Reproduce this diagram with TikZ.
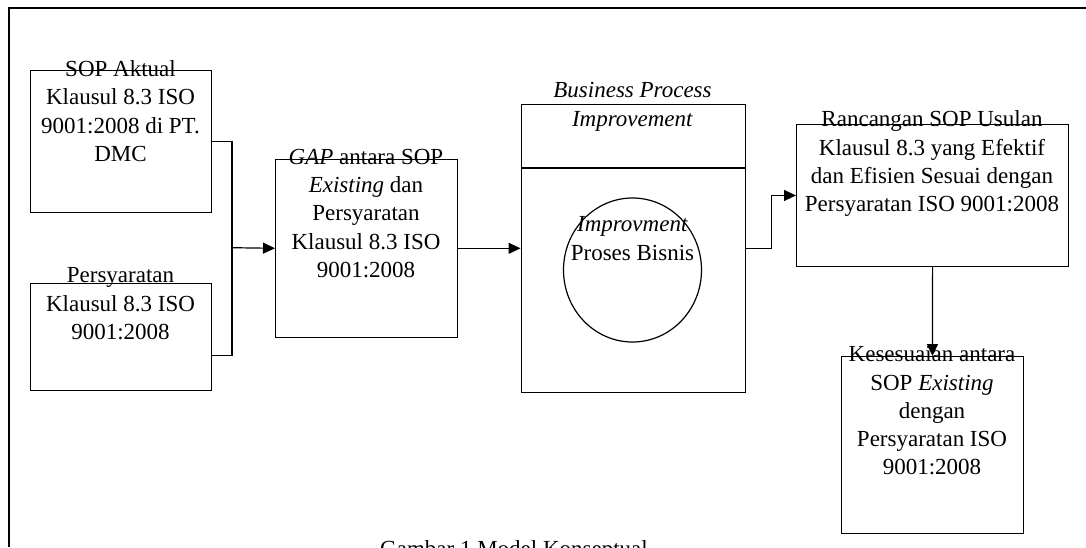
\documentclass[tikz,border=0pt]{standalone}
\usepackage{fontspec}
\setmainfont{Liberation Serif}
\usetikzlibrary{arrows.meta,shapes.geometric}
\begin{document}
\begin{tikzpicture}[x=1pt,y=-1pt,
  box/.style={draw, line width=1.2pt, inner sep=0pt, anchor=north west},
  txt/.style={align=center, inner sep=0pt, anchor=base, font=\fontsize{23}{28.3}\selectfont},
  conn/.style={line width=1.2pt},
  arr/.style={line width=1.2pt, -{Triangle[length=12pt,width=11pt]}}]
\useasboundingbox (0,0) rectangle (1086,547);
% outer frame
\draw[line width=2pt] (8.5,547) -- (8.5,7.5) -- (1090,7.5);
% boxes
\node[box, minimum width=181pt, minimum height=142pt] (A) at (30,70) {};
\node[box, minimum width=181pt, minimum height=107pt] (B) at (30,283) {};
\node[box, minimum width=182pt, minimum height=178pt] (C) at (275,158.7) {};
\node[box, minimum width=224.5pt, minimum height=288pt] (D) at (520.5,103.7) {};
\node[box, minimum width=272pt, minimum height=141.7pt] (E) at (796,124) {};
\node[box, minimum width=181.7pt, minimum height=177pt] (F) at (841,356) {};
\draw[conn] (D.west |- 0,168) -- (D.east |- 0,168);
\node[draw, line width=1.2pt, ellipse, inner sep=0pt, minimum width=138pt, minimum height=144pt] (G) at (632.5,270) {};
% texts (base anchor = baseline of the last line)
\node[txt] (tA) at (120.5,161.4) {SOP Aktual\\Klausul 8.3 ISO\\9001:2008 di PT.\\DMC};
\node[txt] (tB) at (120.5,339.3) {Persyaratan\\Klausul 8.3 ISO\\9001:2008};
\node[txt] (tC) at (366,277.5) {\textit{GAP} antara SOP\\\textit{Existing} dan\\Persyaratan\\Klausul 8.3 ISO\\9001:2008};
\node[txt] (tD) at (632.5,126) {\textit{Business Process}\\\textit{Improvement}};
\node[txt] (tG) at (632.5,260) {\textit{Improvment}\\Proses Bisnis};
\node[txt] (tE) at (932,211.6) {Rancangan SOP Usulan\\Klausul 8.3 yang Efektif\\dan Efisien Sesuai dengan\\Persyaratan ISO 9001:2008};
\node[txt] (tF) at (932,474.9) {Kesesuaian antara\\SOP \textit{Existing}\\dengan\\Persyaratan ISO\\9001:2008};
\node[txt] (cap) at (514,556) {Gambar 1 Model Konseptual};
% connectors
\coordinate (jn) at (232,247.7);
\draw[conn] (A.east) -| (jn);
\draw[conn] ([yshift=-18.5pt]B.east) -| (jn);
\draw[arr] (jn) -- (C.west);
\draw[arr] (C.east) -- (D.west);
\draw[arr] (D.east) -- ++(25,0) |- (E.west);
\draw[arr] (E.south) -- (F.north);
\end{tikzpicture}
\end{document}
